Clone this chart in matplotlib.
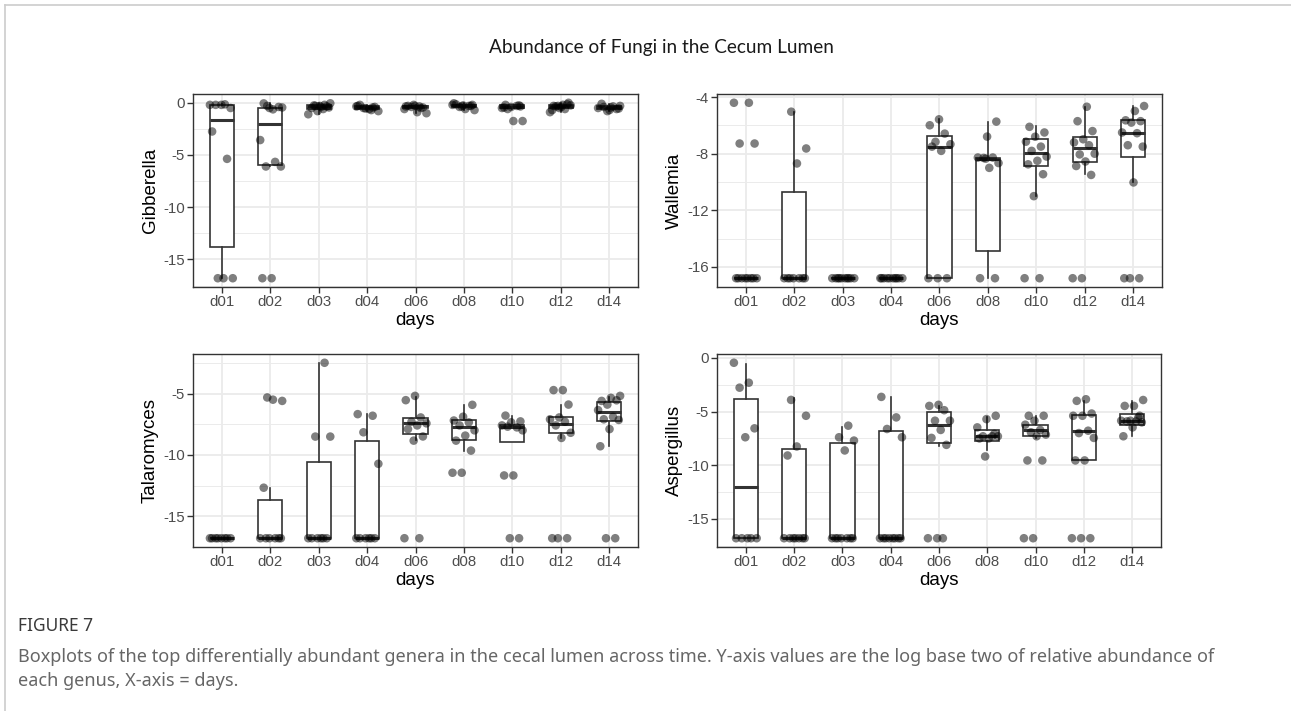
import matplotlib
matplotlib.use('Agg')
import matplotlib.pyplot as plt
import numpy as np
from matplotlib.lines import Line2D
from matplotlib.ticker import FixedLocator

# ---------------- data ----------------
days = ['d01', 'd02', 'd03', 'd04', 'd06', 'd08', 'd10', 'd12', 'd14']
LOD = -16.8

# Gibberella
gib_points = [
    [-0.2, -0.15, -0.2, -0.5, -0.2, -2.75, -5.37, LOD, LOD, LOD],
    [-0.3, -0.45, -0.63, -0.06, -0.4, -0.5, -3.57, -5.66, -6.1, -6.1, LOD, LOD],
    [-0.2, -0.3, -0.05, -0.4, -0.5, -0.35, -0.8, -1.1, -0.6, -0.25, -0.45, -0.3],
    [-0.3, -0.45, -0.5, -0.8, -0.6, -0.2, -0.4, -0.55, -0.35, -0.7],
    [-0.3, -0.35, -0.5, -0.4, -1.0, -0.9, -0.3, -0.45, -0.2, -0.6, -0.35],
    [-0.2, -0.25, -0.05, -0.3, -0.4, -0.7, -0.6, -0.15, -0.3, -0.35, -0.2],
    [-0.2, -0.35, -0.4, -0.5, -0.3, -0.6, -1.75, -1.75, -0.45, -0.25],
    [-0.2, -0.3, 0.0, -0.5, -0.9, -0.6, -0.35, -0.25, -0.4, -0.7, -0.15, -0.3],
    [-0.3, -0.45, -0.1, -0.6, -0.8, -0.5, -0.35, -0.4, -0.55, -0.7],
]
gib_med = [-1.67, -2.05, -0.35, -0.45, -0.35, -0.25, -0.4, -0.3, -0.45]
gib_q1 = [-13.84, -5.94, -0.6, -0.6, -0.5, -0.4, -0.5, -0.5, -0.6]
gib_q3 = [-0.25, -0.47, -0.2, -0.3, -0.3, -0.2, -0.25, -0.2, -0.3]
gib_lo = [LOD, -6.1, -1.1, -0.8, -1.0, -0.7, -0.6, -0.9, -0.8]
gib_hi = [-0.15, -0.06, -0.05, -0.2, -0.2, -0.05, -0.2, 0.0, -0.1]

# Wallemia
wal_points = [
    [-4.4, -4.4, -7.28, -7.28, LOD, LOD, LOD, LOD, LOD, LOD, LOD, LOD],
    [-5.03, -7.63, -8.69, LOD, LOD, LOD, LOD, LOD, LOD, LOD],
    [LOD, LOD, LOD, LOD, LOD, LOD, LOD, LOD, LOD, LOD],
    [LOD, LOD, LOD, LOD, LOD, LOD, LOD, LOD, LOD, LOD],
    [-5.57, -5.99, -6.58, -7.16, -7.33, -7.8, -7.5, LOD, LOD, LOD],
    [-5.73, -6.79, -8.27, -8.27, -8.3, -8.66, -9.0, LOD, LOD, -8.35],
    [-6.1, -6.5, -6.8, -7.15, -7.5, -7.8, -8.2, -8.5, -8.75, -9.45, -11.0, LOD, LOD],
    [-4.68, -5.7, -6.4, -6.98, -7.2, -7.4, -8.05, -8.0, -8.55, -8.87, -9.5, LOD, LOD],
    [-4.63, -4.98, -5.64, -5.7, -5.8, -6.5, -6.55, -7.4, -7.5, -10.03, LOD, LOD, LOD],
]
wal_med = [LOD, LOD, LOD, LOD, -7.56, -8.38, -7.92, -7.61, -6.51]
wal_q1 = [LOD, LOD, LOD, LOD, LOD, -14.87, -8.9, -8.62, -8.2]
wal_q3 = [LOD, -10.73, LOD, LOD, -6.74, -8.27, -6.98, -6.81, -5.64]
wal_lo = [LOD, LOD, LOD, LOD, LOD, LOD, -10.96, -9.44, -10.03]
wal_hi = [LOD, -5.03, LOD, LOD, -5.57, -5.73, -6.04, -4.7, -4.63]

# Talaromyces
tal_points = [
    [LOD, LOD, LOD, LOD, LOD, LOD, LOD, LOD],
    [-5.32, -5.6, -5.5, -12.68, LOD, LOD, LOD, LOD, LOD, LOD],
    [-2.49, -8.51, -8.51, LOD, LOD, LOD, LOD, LOD, LOD],
    [-6.68, -6.81, -8.16, -10.73, LOD, LOD, LOD, LOD, LOD, LOD],
    [-5.19, -5.54, -6.95, -7.3, -7.43, -7.6, -7.9, -8.5, -8.84, LOD, LOD],
    [-5.92, -6.89, -7.2, -7.35, -7.6, -8.0, -8.43, -8.84, -9.65, -11.46, -11.46],
    [-6.8, -7.27, -7.35, -7.6, -7.76, -7.7, -8.0, -11.68, -11.68, LOD, LOD],
    [-4.72, -4.72, -5.9, -6.95, -7.1, -7.3, -7.6, -8.2, -8.62, LOD, LOD, LOD],
    [-5.19, -5.35, -5.6, -5.55, -5.9, -6.35, -6.9, -7.1, -7.15, -7.9, -9.3, LOD, LOD],
]
tal_med = [LOD, LOD, LOD, LOD, -7.43, -7.7, -7.7, -7.49, -6.54]
tal_q1 = [LOD, LOD, LOD, LOD, -8.3, -8.76, -8.97, -8.24, -7.27]
tal_q3 = [LOD, -13.7, -10.6, -8.84, -7.03, -7.16, -7.54, -6.89, -5.65]
tal_lo = [LOD, LOD, LOD, LOD, -8.78, -9.65, -8.97, -8.62, -9.24]
tal_hi = [LOD, -12.7, -2.49, -6.68, -5.32, -5.92, -6.8, -5.92, -5.27]

# Aspergillus
asp_points = [
    [-0.45, -2.31, -2.77, -6.56, -7.39, LOD, LOD, LOD, LOD, LOD],
    [-3.91, -5.39, -8.25, -9.09, LOD, LOD, LOD, LOD, LOD, LOD, LOD],
    [-6.31, -7.39, -7.7, -8.62, LOD, LOD, LOD, LOD, LOD, LOD, LOD],
    [-3.63, -5.54, -6.62, -7.39, LOD, LOD, LOD, LOD, LOD, LOD, LOD, LOD],
    [-4.37, -4.47, -4.87, -5.85, -5.85, -6.71, -7.45, -8.1, LOD, LOD, LOD],
    [-5.39, -5.7, -6.47, -7.3, -7.3, -7.3, -7.5, -7.5, -7.08, -9.18],
    [-5.39, -5.39, -5.85, -6.22, -6.71, -6.93, -7.14, -7.3, -9.55, -9.55, LOD, LOD],
    [-3.85, -4.0, -5.18, -5.39, -5.39, -6.78, -7.0, -7.45, -9.55, -9.55, LOD, LOD, LOD],
    [-3.92, -4.47, -4.47, -5.39, -5.85, -5.85, -5.91, -5.91, -6.0, -6.47, -7.3, -5.55],
]
asp_med = [-12.0, LOD, LOD, LOD, -6.22, -7.24, -6.71, -6.84, -5.85]
asp_q1 = [LOD, LOD, LOD, LOD, -7.95, -7.76, -7.24, -9.55, -6.22]
asp_q3 = [-3.79, -8.44, -7.92, -6.78, -5.08, -6.71, -6.22, -5.3, -5.18]
asp_lo = [LOD, LOD, LOD, LOD, -8.2, -8.62, -7.45, -9.55, -7.3]
asp_hi = [-0.55, -3.77, -6.47, -3.63, -4.47, -5.54, -5.39, -4.0, -4.0]

panels = [
    ('Gibberella', gib_points, gib_med, gib_q1, gib_q3, gib_lo, gib_hi, [0, -5, -10, -15], 2.5),
    ('Wallemia', wal_points, wal_med, wal_q1, wal_q3, wal_lo, wal_hi, [-4, -8, -12, -16], 2.0),
    ('Talaromyces', tal_points, tal_med, tal_q1, tal_q3, tal_lo, tal_hi, [-5, -10, -15], 2.5),
    ('Aspergillus', asp_points, asp_med, asp_q1, asp_q3, asp_lo, asp_hi, [0, -5, -10, -15], 2.5),
]

# ---------------- layout ----------------
W, H = 1291, 711
fig = plt.figure(figsize=(W / 100, H / 100), dpi=100)
fig.patch.set_facecolor('white')

# axes boxes in pixel coords (left, top, right, bottom)
boxes = [
    (193, 94, 638, 287),
    (717, 94, 1162, 287),
    (193, 354, 638, 547),
    (717, 354, 1161, 547),
]

FONT = ['Liberation Sans', 'DejaVu Sans']
grid_c = '#ebebeb'
border_c = '#333333'

for (name, pts, med, q1, q3, lo, hi, yticks, minor_step), (l, t, r, b) in zip(panels, boxes):
    ax = fig.add_axes([l / W, 1 - b / H, (r - l) / W, (b - t) / H])
    pos = np.arange(1, len(days) + 1)

    stats = []
    for i in range(len(days)):
        stats.append(dict(med=med[i], q1=q1[i], q3=q3[i], whislo=lo[i], whishi=hi[i], fliers=[]))
    ax.bxp(stats, positions=pos, widths=0.5, showfliers=False, showcaps=False,
           patch_artist=True,
           boxprops=dict(facecolor='white', edgecolor='#333333', linewidth=1.2),
           whiskerprops=dict(color='#333333', linewidth=1.2),
           medianprops=dict(color='#333333', linewidth=2.2, solid_capstyle='butt'),
           zorder=2)

    allv = []
    for i, vals in enumerate(pts):
        vals = np.asarray(vals, dtype=float)
        n = len(vals)
        off = (((np.arange(n) * 0.618034 + i * 0.37) % 1.0) - 0.5) * 0.5
        ax.scatter(pos[i] + off, vals, s=38, color='black', alpha=0.5,
                   edgecolors='none', zorder=3)
        allv.extend(vals.tolist())
    allv.extend(lo)
    allv.extend(hi)
    vmin, vmax = min(allv), max(allv)
    pad = (vmax - vmin) * 0.05
    ax.set_ylim(vmin - pad, vmax + pad)
    ax.set_xlim(0.4, len(days) + 0.6)

    ax.set_xticks(pos)
    ax.set_xticklabels(days)
    ax.yaxis.set_major_locator(FixedLocator(yticks))
    ax.set_yticklabels([str(v) for v in yticks])
    minors = [v - minor_step for v in yticks] + [yticks[0] + minor_step]
    ax.yaxis.set_minor_locator(FixedLocator(minors))

    ax.grid(which='major', color=grid_c, linewidth=1.3, zorder=0)
    ax.grid(which='minor', axis='y', color=grid_c, linewidth=0.7, zorder=0)
    ax.set_axisbelow(True)

    for sp in ax.spines.values():
        sp.set_color(border_c)
        sp.set_linewidth(1.0)
    ax.tick_params(axis='both', which='major', length=4, width=1, color=border_c,
                   labelcolor='#4d4d4d', labelsize=10.8, pad=2)
    ax.tick_params(axis='both', which='minor', length=0)
    for lab in ax.get_xticklabels() + ax.get_yticklabels():
        lab.set_family(FONT)

    ax.set_xlabel('days', fontsize=13.5, family=FONT, color='black', labelpad=2)
    ax.set_ylabel(name, fontsize=13.5, family=FONT, color='black', labelpad=3)

# title
fig.text(661 / W, 1 - 48 / H, 'Abundance of Fungi in the Cecum Lumen', ha='center', va='center',
         fontsize=13.7, family=['Lato', 'DejaVu Sans'], color='#1a1a1a')

# caption
fig.text(18 / W, 1 - 626 / H, 'FIGURE 7', ha='left', va='center', fontsize=12.5,
         family=['Noto Sans', 'DejaVu Sans'], color='#3a3a3a', weight='medium')
fig.text(18 / W, 1 - 657 / H,
         'Boxplots of the top differentially abundant genera in the cecal lumen across time. '
         'Y-axis values are the log base two of relative abundance of',
         ha='left', va='center', fontsize=13, family=['Noto Sans', 'DejaVu Sans'], color='#666666')
fig.text(18 / W, 1 - 681 / H, 'each genus, X-axis = days.',
         ha='left', va='center', fontsize=13, family=['Noto Sans', 'DejaVu Sans'], color='#666666')

# frame lines
fig.add_artist(Line2D([5 / W, 1], [1 - 5 / H, 1 - 5 / H], color='#cccccc', linewidth=1.2))
fig.add_artist(Line2D([5 / W, 5 / W], [1 - 5 / H, 0], color='#cccccc', linewidth=1.2))

fig.savefig('out.png', dpi=100, facecolor='white')
